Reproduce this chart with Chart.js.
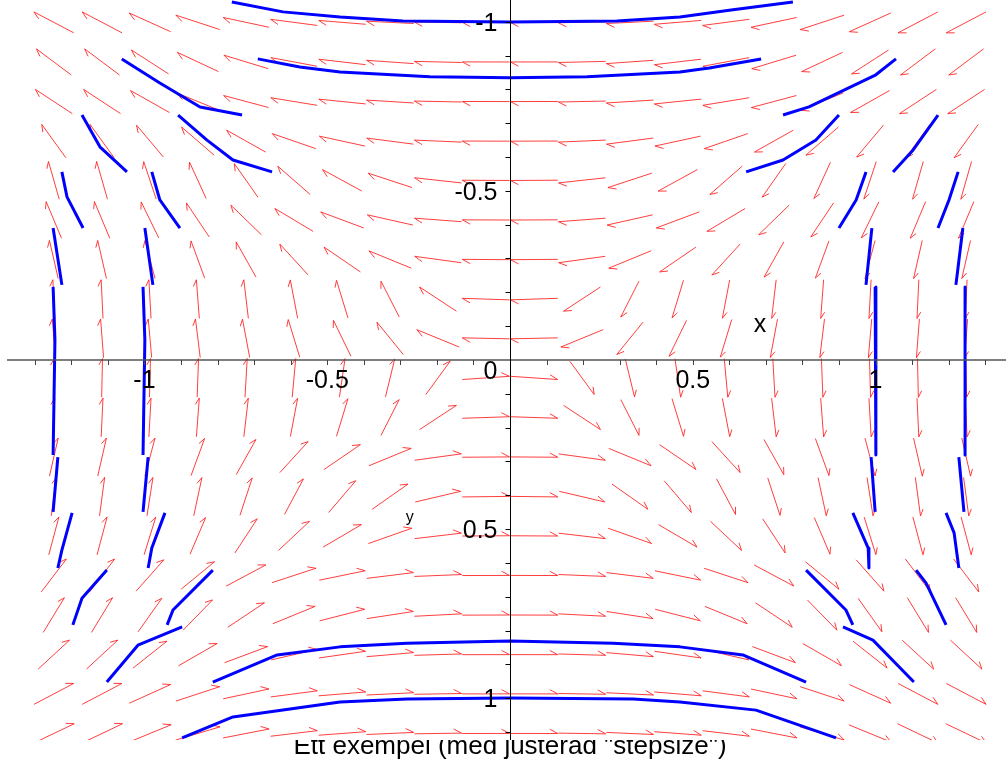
<!DOCTYPE html>
<html>
<head>
<meta charset="utf-8">
<script src="https://cdn.jsdelivr.net/npm/chart.js@4.4.1/dist/chart.umd.min.js"></script>
<style>
  html, body { margin: 0; padding: 0; background: #fff; }
  canvas { display: block; }
</style>
</head>
<body>
<canvas id="plot" width="1006" height="764"></canvas>
<script>
// ---- viewing window (data units) ----
const xWindow = [-1.3953, 1.3570];
const yWindow = [-1.0641, 1.1233];   // y grows downwards on the page

// ---- direction field: cell centres and field components ----
const fieldX = [-1.248, -1.116, -0.985, -0.854, -0.722, -0.591, -0.459, -0.328, -0.197, -0.066,
                 0.066,  0.197,  0.328,  0.459,  0.591,  0.722,  0.854,  0.985,  1.116,  1.248];
const fieldY = [-0.998, -0.881, -0.764, -0.647, -0.531, -0.414, -0.297, -0.180, -0.064,
                 0.053,  0.170,  0.287,  0.404,  0.520,  0.637,  0.754,  0.871,  0.987, 1.104];
// horizontal component, one value per row
const flowRow = [-1.0, -0.7, -0.8, -0.38, -0.15, -0.22, -0.12, -0.025, -0.04,
                  0.012, 0.025, 0.12, 0.07, 0.14, 0.40, 0.32, 0.57, 1.0, 1.1];
// vertical component, one value per column
const flowCol = [-0.64, -0.64, -0.55, -0.40, -0.26, -0.16, -0.10, -0.06, -0.02, -0.001,
                  0.001, 0.02, 0.06, 0.10, 0.16, 0.26, 0.40, 0.55, 0.64, 0.64];

// ---- solution curves, [x, y] pairs ----
const curvesTop = [
  [[-0.761,-1.058],[-0.621,-1.029],[-0.465,-1.014],[-0.293,-1.002],[0,-0.999],[0.293,-1.002],[0.465,-1.014],[0.610,-1.035],[0.774,-1.058]],
  [[-0.690,-0.890],[-0.575,-0.866],[-0.465,-0.851],[-0.219,-0.837],[0,-0.834],[0.211,-0.837],[0.465,-0.851],[0.545,-0.863],[0.687,-0.890]]
];
const curvesLeft = [
  [[-1.062,-0.890],[-0.958,-0.819],[-0.848,-0.748],[-0.733,-0.724]],
  [[-1.171,-0.724],[-1.122,-0.630],[-1.048,-0.556]],
  [[-0.908,-0.724],[-0.829,-0.650],[-0.758,-0.591],[-0.651,-0.556]],
  [[-1.226,-0.556],[-1.212,-0.482],[-1.168,-0.390]],
  [[-0.980,-0.556],[-0.958,-0.473],[-0.903,-0.390]],
  [[-1.250,-0.390],[-1.226,-0.222]],
  [[-0.999,-0.390],[-0.977,-0.222]],
  [[-1.250,-0.216],[-1.245,-0.059],[-1.250,0.281]],
  [[-1.004,-0.216],[-0.999,-0.059],[-1.004,0.281]],
  [[-1.237,0.287],[-1.250,0.449]],
  [[-0.990,0.287],[-1.004,0.449]],
  [[-1.198,0.452],[-1.226,0.562],[-1.237,0.615]],
  [[-0.944,0.452],[-0.980,0.556],[-0.990,0.615]],
  [[-1.103,0.621],[-1.171,0.704],[-1.196,0.783]],
  [[-0.813,0.621],[-0.922,0.739],[-0.938,0.783]],
  [[-0.897,0.789],[-1.018,0.843],[-1.103,0.952]]
];
const curvesRight = [
  [[0.747,-0.724],[0.818,-0.748],[1.001,-0.843],[1.056,-0.890]],
  [[0.646,-0.556],[0.747,-0.591],[0.837,-0.650],[0.900,-0.724]],
  [[1.048,-0.556],[1.103,-0.621],[1.171,-0.724]],
  [[0.900,-0.390],[0.947,-0.473],[0.974,-0.556]],
  [[1.171,-0.390],[1.201,-0.473],[1.226,-0.556]],
  [[0.990,-0.390],[0.974,-0.222]],
  [[1.239,-0.390],[1.220,-0.222]],
  [[0.999,-0.216],[1.001,0.281]],
  [[1.245,-0.216],[1.245,0.281]],
  [[0.988,0.287],[0.999,0.449]],
  [[1.228,0.287],[1.242,0.449]],
  [[0.938,0.452],[0.980,0.556],[0.982,0.615]],
  [[1.193,0.452],[1.215,0.511],[1.228,0.615]],
  [[0.810,0.621],[0.919,0.739],[0.938,0.783]],
  [[1.111,0.621],[1.138,0.659],[1.193,0.783]],
  [[0.911,0.789],[0.993,0.828],[1.105,0.952]]
];
const curvesBottom = [
  [[-0.813,0.952],[-0.637,0.872],[-0.465,0.848],[-0.282,0.837],[0,0.831],[0.282,0.837],[0.465,0.848],[0.637,0.872],[0.810,0.952]],
  [[-0.897,1.117],[-0.758,1.055],[-0.465,1.011],[-0.282,1.002],[0,0.999],[0.337,1.002],[0.465,1.011],[0.673,1.035],[0.892,1.117]]
];

// ---- axes ----
const xTicks = [-1.3,-1.2,-1.1,-1.0,-0.9,-0.8,-0.7,-0.6,-0.5,-0.4,-0.3,-0.2,-0.1,
                 0.1,0.2,0.3,0.4,0.5,0.6,0.7,0.8,0.9,1.0,1.1,1.2,1.3];
const yTicks = [-1.0,-0.9,-0.8,-0.7,-0.6,-0.5,-0.4,-0.3,-0.2,-0.1,
                 0.1,0.2,0.3,0.4,0.5,0.6,0.7,0.8,0.9,1.0,1.1];
const xTickLabels = [-1, -0.5, 0.5, 1];
const yTickLabels = [-1, -0.5, 0.5, 1];
const xAxisTitle = 'x';
const yAxisTitle = 'y';
const chartTitle = 'Ett exempel (med justerad "stepsize")';

const FONT = '"Liberation Sans", Arial, Helvetica, sans-serif';

// red arrows of the direction field
const fieldPlugin = {
  id: 'directionField',
  beforeDatasetsDraw(chart) {
    const { ctx, chartArea: a, scales: { x, y } } = chart;
    const cw = fieldX[1] - fieldX[0];
    const ch = fieldY[1] - fieldY[0];
    ctx.save();
    ctx.beginPath();
    ctx.rect(a.left, a.top, a.right - a.left, a.bottom - a.top);
    ctx.clip();
    ctx.strokeStyle = 'rgba(255,20,20,0.82)';
    ctx.lineWidth = 1;
    fieldY.forEach((yv, r) => {
      fieldX.forEach((xv, c) => {
        const u = flowRow[r], v = flowCol[c];
        const n = Math.hypot(u, v) || 1;
        const du = u / n * cw * 0.49, dv = v / n * ch * 0.49;
        const x0 = x.getPixelForValue(xv - du), y0 = y.getPixelForValue(yv - dv);
        const x1 = x.getPixelForValue(xv + du), y1 = y.getPixelForValue(yv + dv);
        const len = Math.hypot(x1 - x0, y1 - y0);
        const back = Math.atan2(y0 - y1, x0 - x1) + 0.49;
        const hl = len * 0.19;
        ctx.beginPath();
        ctx.moveTo(x0, y0);
        ctx.lineTo(x1, y1);
        ctx.lineTo(x1 + hl * Math.cos(back), y1 + hl * Math.sin(back));
        ctx.stroke();
      });
    });
    ctx.restore();
  }
};

// axes through the origin, tick marks, labels and the caption
const axesPlugin = {
  id: 'originAxes',
  afterDatasetsDraw(chart) {
    const { ctx, chartArea: a, scales: { x, y } } = chart;
    const ox = Math.round(x.getPixelForValue(0)) + 0.5;
    const oy = Math.round(y.getPixelForValue(0));
    ctx.save();
    ctx.lineWidth = 1.6;
    ctx.strokeStyle = '#555';
    ctx.beginPath();
    ctx.moveTo(a.left + 7, oy); ctx.lineTo(a.right, oy);
    ctx.stroke();
    ctx.lineWidth = 1;
    ctx.strokeStyle = '#444';
    ctx.beginPath();
    xTicks.forEach(v => {
      const p = Math.round(x.getPixelForValue(v)) + 0.5;
      ctx.moveTo(p, oy); ctx.lineTo(p, oy + 5);
    });
    ctx.stroke();
    ctx.strokeStyle = '#000';
    ctx.beginPath();
    ctx.moveTo(ox, a.top); ctx.lineTo(ox, a.bottom);
    yTicks.forEach(v => {
      const p = Math.round(y.getPixelForValue(v)) + 0.5;
      ctx.moveTo(ox, p); ctx.lineTo(ox - 5, p);
    });
    ctx.stroke();

    ctx.fillStyle = '#000';
    ctx.font = '25px ' + FONT;
    ctx.textBaseline = 'middle';
    ctx.textAlign = 'center';
    xTickLabels.forEach(v => ctx.fillText(String(v), x.getPixelForValue(v), oy + 21));
    ctx.textAlign = 'right';
    yTickLabels.forEach(v => ctx.fillText(String(v), ox - 13, y.getPixelForValue(v) + 2));
    ctx.textAlign = 'center';
    ctx.fillText('0', ox - 20, oy + 12);

    ctx.font = '25px ' + FONT;
    ctx.fillText(xAxisTitle, x.getPixelForValue(0.684), y.getPixelForValue(-0.104));
    ctx.font = '16px ' + FONT;
    ctx.fillText(yAxisTitle, x.getPixelForValue(-0.274), y.getPixelForValue(0.467));
    ctx.restore();
  },
  afterDraw(chart) {
    const { ctx, chartArea: a, scales: { x } } = chart;
    ctx.save();
    ctx.beginPath();
    ctx.rect(0, a.bottom, chart.width, chart.height - a.bottom);
    ctx.clip();
    ctx.fillStyle = '#000';
    ctx.font = '26px ' + FONT;
    ctx.textAlign = 'center';
    ctx.textBaseline = 'alphabetic';
    ctx.fillText(chartTitle, x.getPixelForValue(0), a.bottom + 14);
    ctx.restore();
  }
};

const toPoints = pts => pts.map(([px, py]) => ({ x: px, y: py }));
const curveSets = [...curvesTop, ...curvesLeft, ...curvesRight, ...curvesBottom].map(c => ({
  data: toPoints(c),
  showLine: true,
  borderColor: '#0000ff',
  borderWidth: 3,
  pointRadius: 0,
  fill: false,
  tension: 0,
  borderJoinStyle: 'round'
}));

new Chart(document.getElementById('plot'), {
  type: 'scatter',
  data: { datasets: curveSets },
  options: {
    responsive: false,
    devicePixelRatio: 1,
    animation: false,
    events: [],
    layout: { padding: { left: 0, right: 0, top: 0, bottom: 24 } },
    plugins: { legend: { display: false }, tooltip: { enabled: false }, title: { display: false } },
    scales: {
      x: { type: 'linear', min: xWindow[0], max: xWindow[1], display: false },
      y: { type: 'linear', min: yWindow[0], max: yWindow[1], reverse: true, display: false }
    }
  },
  plugins: [fieldPlugin, axesPlugin]
});
</script>
</body>
</html>
